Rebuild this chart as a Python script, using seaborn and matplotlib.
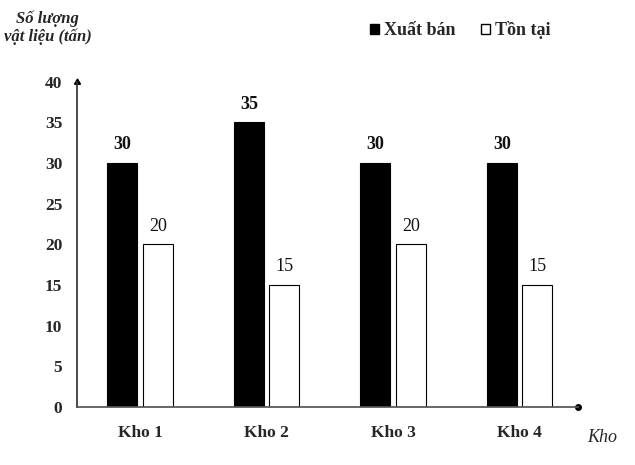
import pandas as pd
import matplotlib
matplotlib.use("Agg")
import matplotlib.pyplot as plt
import seaborn as sns
from matplotlib.patches import Patch

# data
kho = ["Kho 1", "Kho 2", "Kho 3", "Kho 4"]
xuat_ban = [30, 35, 30, 30]
ton_tai = [20, 15, 20, 15]
series = ["Xuất bán", "Tồn tại"]

df = pd.DataFrame({
    "Kho": kho * 2,
    "Loai": [series[0]] * 4 + [series[1]] * 4,
    "SoLuong": xuat_ban + ton_tai,
})

sns.set_theme(style="white")
plt.rcParams["font.family"] = ["Liberation Serif", "DejaVu Serif"]

fig = plt.figure(figsize=(6.35, 4.65), dpi=100)
ax = fig.add_axes([0.121, 0.125, 0.789, 0.699])

sns.barplot(data=df, x="Kho", y="SoLuong", hue="Loai", order=kho, hue_order=series,
            palette=["black", "white"], edgecolor="black", linewidth=0.8,
            width=0.56, gap=0.15, ax=ax, legend=False)

for i, cont in enumerate(ax.containers):
    ax.bar_label(cont, padding=7, fontsize=13,
                 fontweight="bold" if i == 0 else "normal", color="#111111")

ax.set_ylim(0, 40)
ax.set_xlim(-0.5, 3.46)
ax.set_yticks(range(0, 41, 5))
ax.tick_params(axis="y", labelsize=12.5, length=3, direction="inout", pad=9)
ax.tick_params(axis="x", labelsize=12.5, length=0, pad=13)
for lab in ax.get_xticklabels() + ax.get_yticklabels():
    lab.set_fontweight("bold")

sns.despine(ax=ax)
ax.spines["left"].set_color("#333333")
ax.spines["bottom"].set_color("#555555")
ax.plot(1, 0, "o", color="black", markersize=4, transform=ax.transAxes, clip_on=False)
ax.plot(0, 1, marker=(3, 0, 0), color="black", markersize=5, transform=ax.transAxes, clip_on=False)

ax.set_xlabel("")
ax.set_ylabel("")
fig.text(0.075, 0.94, "Số lượng\nvật liệu (tấn)", ha="center", va="center",
         fontsize=12, fontstyle="italic", fontweight="bold", linespacing=1.15)
fig.text(0.948, 0.06, "Kho", ha="center", va="center", fontsize=13, fontstyle="italic")

handles = [Patch(facecolor="black", edgecolor="black"),
           Patch(facecolor="white", edgecolor="black")]
fig.legend(handles, series, loc="center", bbox_to_anchor=(0.725, 0.935), ncol=2,
           frameon=False, handlelength=0.5, handleheight=0.5, handletextpad=0.3,
           columnspacing=1.4, prop={"weight": "bold", "size": 13})

fig.savefig("out.png", dpi=100)
